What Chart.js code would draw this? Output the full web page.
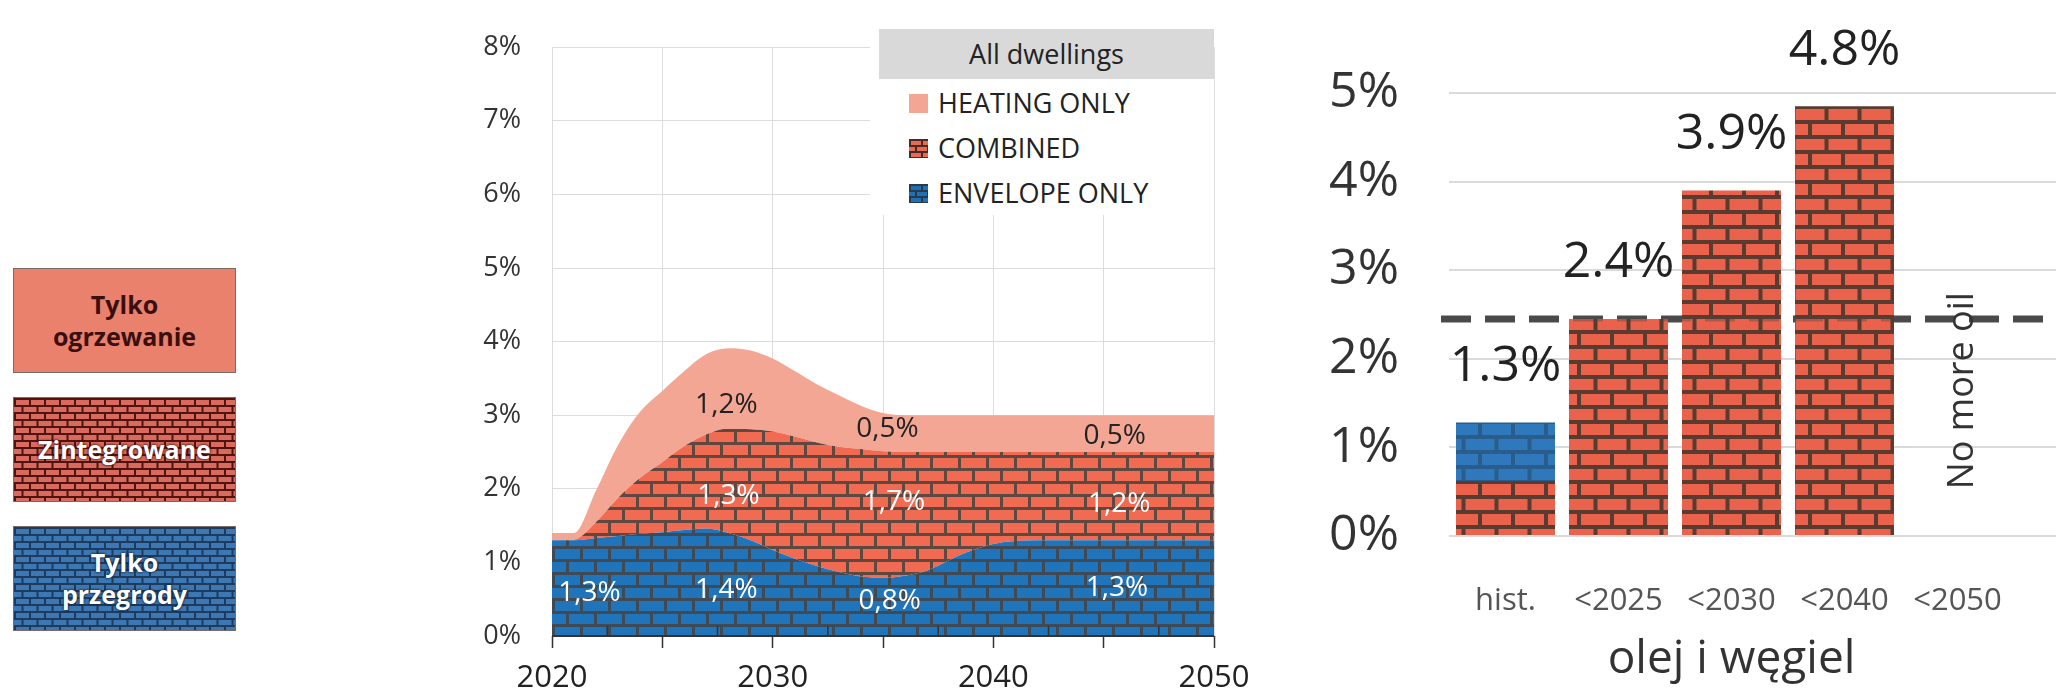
<!DOCTYPE html>
<html><head><meta charset="utf-8">
<script src="https://cdn.jsdelivr.net/npm/chart.js@4"></script>
<style>
html,body{margin:0;padding:0;width:2056px;height:689px;overflow:hidden;background:#fff;font-family:'Open Sans',sans-serif;}
.box{position:absolute;left:13px;width:223px;height:105px;box-sizing:border-box;border:1.5px solid #7a6a66;display:flex;align-items:center;justify-content:center;text-align:center;font-weight:bold;font-size:25px;line-height:1.25;}
#b1{top:268px;background:#E9816D;color:#3a0f0f;}
#b2{top:397px;color:#fff;text-shadow:0 0 3px #4a0d08,0 0 2px #4a0d08;}
#b3{top:526px;color:#fff;text-shadow:0 0 3px #10223a,0 0 2px #10223a;}
#c1wrap{position:absolute;left:440px;top:0;width:840px;height:689px;}
#c2wrap{position:absolute;left:1280px;top:0;width:860px;height:689px;}
#lg{position:absolute;left:870px;top:29px;width:344px;height:186px;background:#fff;}
#lgh{position:absolute;left:9px;top:0;width:335px;height:50px;background:#d9d9d9;color:#222;font-size:27px;line-height:50px;text-align:center;}
.li{position:absolute;left:39px;height:30px;line-height:30px;font-size:27px;color:#222;white-space:nowrap;}
.mk{display:inline-block;width:19px;height:19px;vertical-align:middle;margin-right:10px;position:relative;top:-2px;}
</style></head>
<body>
<div class="box" id="b1">Tylko<br>ogrzewanie</div>
<div class="box" id="b2">Zintegrowane</div>
<div class="box" id="b3">Tylko<br>przegrody</div>
<div id="c1wrap"><canvas id="c1" width="840" height="689"></canvas></div>
<div id="lg">
  <div id="lgh">All dwellings</div>
  <div class="li" style="top:59px"><span class="mk" id="mk1"></span>HEATING ONLY</div>
  <div class="li" style="top:104px"><span class="mk" id="mk2"></span>COMBINED</div>
  <div class="li" style="top:149px"><span class="mk" id="mk3"></span>ENVELOPE ONLY</div>
</div>
<div id="c2wrap"><canvas id="c2" width="860" height="689"></canvas></div>
<script>
// ---------- data: middle chart (share of dwellings renovated per year, %) ----------
const years = [2020,2021,2022,2023,2024,2025,2026,2027,2028,2029,2030,2031,2032,2033,2034,2035,2036,2037,2038,2039,2040,2041,2042,2043,2044,2045,2046,2047,2048,2049,2050];
const envelopeOnly = [1.30,1.30,1.33,1.36,1.39,1.41,1.44,1.46,1.40,1.30,1.17,1.05,0.95,0.87,0.81,0.79,0.82,0.89,1.03,1.16,1.25,1.29,1.30,1.30,1.30,1.30,1.30,1.30,1.30,1.30,1.30];
const combined     = [0.00,0.01,0.22,0.52,0.76,0.95,1.14,1.28,1.42,1.51,1.61,1.66,1.68,1.70,1.73,1.72,1.68,1.61,1.47,1.34,1.25,1.21,1.20,1.20,1.20,1.20,1.20,1.20,1.20,1.20,1.20];
const heatingOnly  = [0.10,0.09,0.43,0.72,0.90,0.97,1.02,1.09,1.09,1.07,0.99,0.89,0.79,0.70,0.59,0.52,0.50,0.50,0.50,0.50,0.50,0.50,0.50,0.50,0.50,0.50,0.50,0.50,0.50,0.50,0.50];
const midYTicks = [0,1,2,3,4,5,6,7,8];
const midXLabelYears = [2020,2030,2040,2050];
// value labels written inside the areas: text and data-space anchor (year, %)
const midLabelText = ['1,3%','1,4%','0,8%','1,3%','1,3%','1,7%','1,2%','1,2%','0,5%','0,5%'];
const midLabelYear = [2021.7,2027.9,2035.3,2045.6,2028.0,2035.5,2045.7,2027.9,2035.2,2045.5];
const midLabelPct  = [0.58,0.63,0.47,0.65,1.90,1.82,1.79,3.14,2.81,2.72];
const midLabelDark = [false,false,false,false,false,false,false,true,true,true];

// ---------- data: right chart ----------
const categories = ['hist.','<2025','<2030','<2040','<2050',''];
const barCombined = [0.62,2.45,3.90,4.85,null,null];
const barEnvelope = [0.66,null,null,null,null,null];
const barLabels = ['1.3%','2.4%','3.9%','4.8%'];
const barTotals = [1.28,2.45,3.90,4.85];
const rightYTicks = [0,1,2,3,4,5];
const noMoreOilLevel = 2.45;
const groupTitle = 'olej i węgiel';

// ---------- patterns ----------
function brick(bw,bh,m,brickC,mortarC){
  const c=document.createElement('canvas');c.width=bw;c.height=bh*2;
  const g=c.getContext('2d');
  g.fillStyle=mortarC;g.fillRect(0,0,bw,bh*2);
  g.fillStyle=brickC;
  g.fillRect(m,m,bw-m,bh-m);
  g.fillRect(0,bh+m,bw/2,bh-m);
  g.fillRect(bw/2+m,bh+m,bw/2-m,bh-m);
  return c;
}
const ctx1=document.getElementById('c1').getContext('2d');
const ctx2=document.getElementById('c2').getContext('2d');
const redMid = ctx1.createPattern(brick(28,13,3,'#F06B52','#5E4840'),'repeat');
const blueMid = ctx1.createPattern(brick(28,13,3,'#1F74BA','#3F4A55'),'repeat');
const pinkMid = '#F3A694';
const redBar = ctx2.createPattern(brick(33,15,4,'#EA624B','#5A3B30'),'repeat');
const blueBar = ctx2.createPattern(brick(33,15,4,'#2F78BB','#2A5C8C'),'repeat');

document.getElementById('b2').style.backgroundImage='url('+brick(15,7,2,'#D96A5D','#4E1410').toDataURL()+')';
document.getElementById('b3').style.backgroundImage='url('+brick(15,7,2,'#3C78B4','#1E3A5C').toDataURL()+')';
document.getElementById('mk1').style.background=pinkMid;
document.getElementById('mk2').style.backgroundImage='url('+brick(12,6,2,'#E66A55','#4a2a22').toDataURL()+')';
document.getElementById('mk3').style.backgroundImage='url('+brick(12,6,2,'#2070B5','#2a3a4a').toDataURL()+')';

// ---------- middle chart ----------
const pts = arr => years.map((y,i)=>({x:y,y:arr[i]}));
const midPlugin = {
  id:'midDeco',
  afterDatasetsDraw(chart){
    const c=chart.ctx, xs=chart.scales.x, ys=chart.scales.y, a=chart.chartArea;
    c.save();
    c.strokeStyle='#333';c.lineWidth=2;
    const y0=ys.getPixelForValue(0);
    c.beginPath();c.moveTo(a.left,y0);c.lineTo(a.right,y0);c.stroke();
    c.lineWidth=1.5;
    for(let yr=years[0]+2.5; yr<years[years.length-1]; yr+=5){
      const px=xs.getPixelForValue(yr);
      c.beginPath();c.moveTo(px,y0);c.lineTo(px,y0-10);c.stroke();
    }
    c.font='28px "Open Sans"';c.textAlign='center';c.textBaseline='middle';
    midLabelText.forEach((t,i)=>{
      c.fillStyle=midLabelDark[i]?'#222':'#fff';
      c.fillText(t,xs.getPixelForValue(midLabelYear[i]),ys.getPixelForValue(midLabelPct[i]));
    });
    c.restore();
  }
};
new Chart(ctx1,{
  type:'line',
  data:{datasets:[
    {label:'ENVELOPE ONLY',data:pts(envelopeOnly),backgroundColor:blueMid,fill:'origin'},
    {label:'COMBINED',data:pts(combined),backgroundColor:redMid,fill:'-1'},
    {label:'HEATING ONLY',data:pts(heatingOnly),backgroundColor:pinkMid,fill:'-1'}
  ]},
  options:{
    responsive:false,animation:false,
    elements:{point:{radius:0},line:{borderWidth:0,tension:0.4,cubicInterpolationMode:'monotone'}},
    layout:{padding:{top:29,right:66,left:0,bottom:0}},
    plugins:{legend:{display:false},tooltip:{enabled:false}},
    scales:{
      x:{type:'linear',min:years[0],max:years[years.length-1],
        afterFit:s=>{s.height=53;},
        grid:{color:'#dcdcdc',lineWidth:1,tickColor:'#333',tickLength:12,tickWidth:1.5},
        border:{display:false},
        ticks:{stepSize:5,autoSkip:false,maxRotation:0,padding:12,color:'#222',font:{size:31,family:'Open Sans'},
          callback:v=>midXLabelYears.includes(v)?String(v):''}},
      y:{stacked:true,min:midYTicks[0],max:midYTicks[midYTicks.length-1],
        afterFit:s=>{s.width=112;},
        grid:{color:'#dcdcdc',lineWidth:1,drawTicks:false},
        border:{display:false},
        ticks:{stepSize:1,padding:31,color:'#333',font:{size:27,family:'Open Sans'},callback:v=>v+'%'}}
    }
  },
  plugins:[midPlugin]
});

// ---------- right chart ----------
const rightPlugin = {
  id:'rightDeco',
  beforeDatasetsDraw(chart){
    const c=chart.ctx, ys=chart.scales.y, a=chart.chartArea;
    const py=ys.getPixelForValue(noMoreOilLevel);
    c.save();c.strokeStyle='#4d4d4d';c.lineWidth=7;c.setLineDash([30,14]);
    c.beginPath();c.moveTo(a.left-8,py);c.lineTo(chart.width,py);c.stroke();c.restore();
  },
  afterDatasetsDraw(chart){
    const c=chart.ctx, xs=chart.scales.x, ys=chart.scales.y, a=chart.chartArea;
    c.save();
    const py=ys.getPixelForValue(noMoreOilLevel);
    c.strokeStyle='rgba(70,70,70,0.35)';c.lineWidth=5;c.setLineDash([30,14]);
    c.beginPath();c.moveTo(a.left-8,py);c.lineTo(chart.width,py);c.stroke();
    c.setLineDash([]);
    c.fillStyle='#222';c.font='50px "Open Sans"';c.textAlign='center';c.textBaseline='middle';
    barLabels.forEach((t,i)=>{
      c.fillText(t,xs.getPixelForValue(i),ys.getPixelForValue(barTotals[i])-56);
    });
    c.save();
    c.translate(xs.getPixelForValue(4)+5, ys.getPixelForValue(1.64));
    c.rotate(-Math.PI/2);
    c.font='36px "Open Sans"';c.fillStyle='#333';
    c.fillText('No more oil',0,0);
    c.restore();
    c.font='46px "Open Sans"';c.fillStyle='#333';c.textBaseline='alphabetic';
    c.fillText(groupTitle,(xs.getPixelForValue(0)+xs.getPixelForValue(4))/2,673);
    c.restore();
  }
};
new Chart(ctx2,{
  type:'bar',
  data:{labels:categories,datasets:[
    {label:'COMBINED',data:barCombined,backgroundColor:redBar,borderWidth:0},
    {label:'ENVELOPE ONLY',data:barEnvelope,backgroundColor:blueBar,borderWidth:0}
  ]},
  options:{
    responsive:false,animation:false,
    layout:{padding:{top:93,right:13,left:0,bottom:0}},
    plugins:{legend:{display:false},tooltip:{enabled:false}},
    datasets:{bar:{categoryPercentage:1,barPercentage:0.876}},
    scales:{
      x:{stacked:true,afterFit:s=>{s.height=153;},
        grid:{display:false},border:{display:false},
        ticks:{padding:39,color:'#555',font:{size:31,family:'Open Sans'},maxRotation:0,autoSkip:false}},
      y:{stacked:true,min:rightYTicks[0],max:rightYTicks[rightYTicks.length-1],
        afterFit:s=>{s.width=169;},
        grid:{color:'#dadada',lineWidth:2,drawTicks:false},border:{display:false},
        ticks:{stepSize:1,padding:50,color:'#333',font:{size:50,family:'Open Sans'},callback:v=>v+'%'}}
    }
  },
  plugins:[rightPlugin]
});
</script>
</body></html>
